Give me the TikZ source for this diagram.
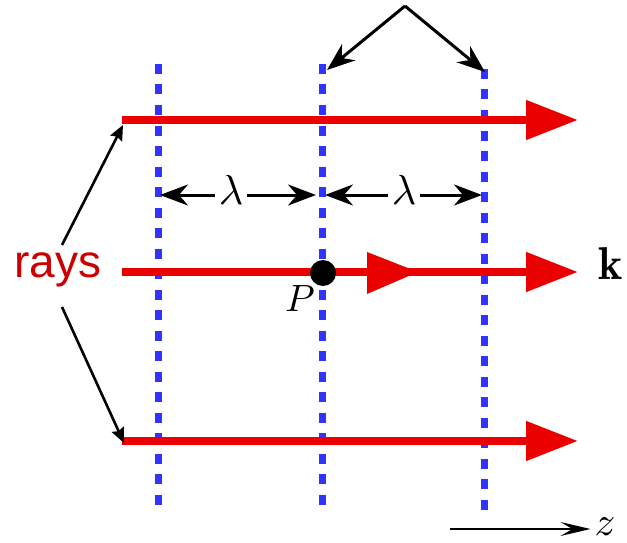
\documentclass[tikz,border=0pt]{standalone}
\usepackage{amsmath}
\usepackage{amssymb}
\usepackage{fontspec}
\newfontfamily\raysfont{Liberation Sans}
\usetikzlibrary{arrows.meta}
\definecolor{rayred}{RGB}{235,0,0}
\definecolor{textred}{RGB}{204,0,0}
\definecolor{frontblue}{RGB}{51,51,255}

\begin{document}
\begin{tikzpicture}[x=1pt,y=-1pt,
    ray/.style={draw=rayred,line width=8pt,-{Triangle[length=52pt,width=38pt]}},
    front/.style={draw=frontblue,line width=7pt,dash pattern=on 10pt off 10.5pt},
    pointer/.style={draw=black,line width=3pt,-{Stealth[length=28pt,width=21pt,inset=9pt]}},
    small pointer/.style={draw=black,line width=2.6pt,-{Stealth[length=15pt,width=13pt,inset=2pt]}},
    big/.style={scale=#1,inner sep=0.8pt}]
            \useasboundingbox (0,0) rectangle (627,543);

            \foreach \n/\x/\ya/\yb in {a/158/64/508,b/322/64/508,c/484/69/510}{
                \coordinate (top\n) at (\x,\ya);
                \coordinate (bot\n) at (\x,\yb);
                \draw[front] (top\n)--(bot\n);
            }

            \foreach \n/\y in {1/120,2/272,3/441}{
                \coordinate (start\n) at (122,\y);
                \coordinate (end\n) at (578,\y);
                \draw[ray] (start\n)--(end\n);
            }
            \coordinate (mid) at (418,272);
            \fill[rayred] (mid) -- ++(-51,-20) -- ++(0,42) -- cycle;

            \node[circle,fill=black,minimum width=26pt,minimum height=24pt,inner sep=0pt] (dotP) at (323,273) {};
            \node[big=3.8] (labP) at (300,299) {\(P\)};
            \node[big=4.6] (k) at (611,264) {\(\mathbf{k}\)};

            \node[text=textred,font=\raysfont\fontsize{46}{46}\selectfont] (rays) at (58,270) {rays};
            \coordinate (raysup) at (62,245);
            \coordinate (raysdown) at (62,307);
            \draw[small pointer] (raysup)--(123,125);
            \draw[small pointer] (raysdown)--(124,443);

            \coordinate (apex) at (405,6);
            \draw[pointer] (apex)--(327,70);
            \draw[pointer] (apex)--(485,72);

            \node[big=4.2] (lam1) at (231,190) {\(\lambda\)};
            \node[big=4.2] (lam2) at (404,190) {\(\lambda\)};
            \draw[pointer] (lam1.west|-0,195)--(160,195);
            \draw[pointer] (lam1.east|-0,195)--(316,195);
            \draw[pointer] (lam2.west|-0,195)--(325,195);
            \draw[pointer] (lam2.east|-0,195)--(482,195);

            \node[big=4.1] (z) at (605,527) {\(z\)};
            \coordinate (zstart) at (450,529);
            \draw[line width=2.2pt,-{Stealth[length=30pt,width=14pt,inset=12pt]}] (zstart)--(z.west|-zstart);
        \end{tikzpicture}
\end{document}
